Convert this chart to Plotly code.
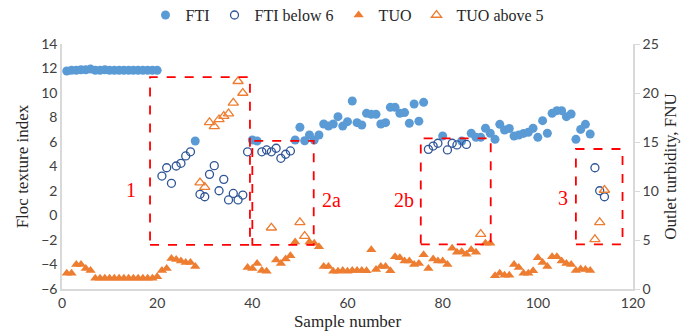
import plotly.graph_objects as go

sample = list(range(1, 115))

fti = [11.8, 11.85, 11.85, 11.9, 11.9, 11.95, 11.85, 11.85, 11.9, 11.85,
       11.85, 11.85, 11.85, 11.85, 11.85, 11.85, 11.85, 11.85, 11.85, 11.85,
       3.22, 3.9, 2.63, 4.04, 4.26, 4.86, 5.2, 6.08, 1.73, 1.53,
       3.36, 4.07, 2.02, 2.95, 1.27, 1.8, 1.27, 1.67, 5.2, 6.16,
       6.08, 5.2, 5.35, 5.2, 5.49, 4.67, 5.0, 5.27, 6.16, 7.2,
       6.1, 6.57, 6.16, 6.57, 7.47, 7.3, 7.47, 8.07, 7.3, 7.66,
       9.35, 7.58, 7.39, 8.34, 8.26, 8.26, 7.47, 7.58, 8.83, 8.83,
       8.34, 8.4, 7.53, 9.1, 7.7, 9.24, 5.4, 5.67, 5.9, 6.49,
       5.35, 5.9, 5.76, 6.08, 5.8, 6.71, 6.38, 6.38, 7.12, 6.71,
       6.22, 7.44, 6.98, 7.1, 6.49, 6.57, 6.7, 6.8, 7.12, 6.38,
       7.74, 6.71, 8.34, 8.56, 8.56, 8.07, 8.29, 6.22, 7.03, 7.44,
       6.65, 3.9, 2.02, 1.53]

tuo = [1.6, 1.6, 2.5, 2.5, 2.1, 1.9, 1.1, 1.1, 1.1, 1.1,
       1.1, 1.1, 1.1, 1.1, 1.1, 1.1, 1.1, 1.1, 1.1, 1.25,
       1.9, 2.1, 3.1, 3.0, 2.85, 2.7, 2.7, 2.3, 10.85, 10.4,
       17.0, 16.6, 17.3, 17.65, 17.9, 19.0, 21.2, 20.0, 2.2, 2.1,
       2.6, 1.9, 1.8, 6.25, 2.96, 2.6, 3.05, 3.4, 4.8, 6.8,
       5.4, 4.8, 4.66, 4.3, 2.3, 2.3, 1.8, 1.8, 1.9, 1.8,
       1.9, 1.9, 1.9, 1.85, 4.0, 2.0, 2.3, 2.3, 1.85, 3.3,
       3.2, 2.85, 2.85, 2.5, 2.6, 3.5, 2.1, 3.05, 2.85, 2.85,
       2.5, 4.15, 3.75, 3.8, 3.55, 4.0, 3.75, 5.6, 4.66, 4.66,
       1.35, 1.6, 1.4, 1.4, 2.5, 2.2, 1.6, 1.6, 1.85, 3.2,
       2.7, 2.3, 3.3, 3.3, 2.85, 2.6, 2.5, 1.9, 2.05, 2.0,
       1.9, 5.07, 6.8, 10.1]

FTI_LIMIT = 6
TUO_LIMIT = 5

# regions (sample range, FTI range) and labels
box_names = ["1", "2a", "2b", "3"]
box_x0 = [18.5, 40.0, 75.4, 108.0]
box_x1 = [39.5, 52.9, 90.1, 117.8]
box_y0 = [-2.4, -2.4, -2.35, -2.35]
box_y1 = [11.3, 6.1, 6.3, 5.43]
label_x = [14.5, 56.6, 71.8, 105.2]
label_y = [2.1, 1.27, 1.27, 1.4]

fti_hi_x = [s for s, v in zip(sample, fti) if v >= FTI_LIMIT]
fti_hi_y = [v for v in fti if v >= FTI_LIMIT]
fti_lo_x = [s for s, v in zip(sample, fti) if v < FTI_LIMIT]
fti_lo_y = [v for v in fti if v < FTI_LIMIT]
tuo_lo_x = [s for s, v in zip(sample, tuo) if v <= TUO_LIMIT]
tuo_lo_y = [v for v in tuo if v <= TUO_LIMIT]
tuo_hi_x = [s for s, v in zip(sample, tuo) if v > TUO_LIMIT]
tuo_hi_y = [v for v in tuo if v > TUO_LIMIT]

blue = "#5B9BD5"
dblue = "#2F5597"
orange = "#ED7D31"
serif = "Liberation Serif"
tickfont = dict(family="Lato", size=14, color="#404040")

fig = go.Figure()
fig.add_trace(go.Scatter(x=fti_hi_x, y=fti_hi_y, mode="markers", name="FTI",
                         marker=dict(symbol="circle", size=9, color=blue)))
fig.add_trace(go.Scatter(x=fti_lo_x, y=fti_lo_y, mode="markers", name="FTI below 6",
                         marker=dict(symbol="circle-open", size=8, color=dblue,
                                     line=dict(width=1.3, color=dblue))))
fig.add_trace(go.Scatter(x=tuo_lo_x, y=tuo_lo_y, mode="markers", name="TUO", yaxis="y2",
                         marker=dict(symbol="triangle-up", size=9, color=orange)))
fig.add_trace(go.Scatter(x=tuo_hi_x, y=tuo_hi_y, mode="markers", name="TUO above 5", yaxis="y2",
                         marker=dict(symbol="triangle-up-open", size=9, color=orange,
                                     line=dict(width=1.3, color=orange))))

shapes = []
annotations = []
for n, x0, x1, y0, y1, lx, ly in zip(box_names, box_x0, box_x1, box_y0, box_y1, label_x, label_y):
    shapes.append(dict(type="rect", xref="x", yref="y", x0=x0, x1=x1, y0=y0, y1=y1,
                       line=dict(color="#FF0000", width=1.8, dash="dash")))
    annotations.append(dict(x=lx, y=ly, xref="x", yref="y", text=n, showarrow=False,
                            font=dict(family=serif, size=20, color="#FF0000")))

fig.update_layout(
    width=686, height=331,
    margin=dict(l=62, r=53, t=44, b=42, autoexpand=False),
    paper_bgcolor="white", plot_bgcolor="white",
    shapes=shapes, annotations=annotations,
    legend=dict(orientation="h", x=0.5, xanchor="center", y=1.118, yanchor="middle",
                font=dict(family=serif, size=16, color="#262626"), itemwidth=30,
                bgcolor="rgba(0,0,0,0)"),
    xaxis=dict(range=[0, 120], dtick=20, tick0=0, showgrid=False, zeroline=False,
               showline=True, linecolor="#D9D9D9", linewidth=1.5, ticks="",
               tickfont=tickfont, automargin=False,
               title=dict(text="Sample number", font=dict(family=serif, size=17, color="#262626"),
                          standoff=12)),
    yaxis=dict(range=[-6, 14], dtick=2, tick0=-6, showgrid=False, zeroline=False,
               showline=True, linecolor="#D9D9D9", linewidth=1.5, ticks="",
               tickfont=tickfont, automargin=False,
               title=dict(text="Floc texture index", font=dict(family=serif, size=17, color="#262626"),
                          standoff=8)),
    yaxis2=dict(range=[0, 25], dtick=5, tick0=0, overlaying="y", side="right",
                showgrid=False, zeroline=False, showline=True, linecolor="#D9D9D9",
                linewidth=1.5, ticks="outside", ticklen=5, tickcolor="#D9D9D9",
                tickfont=tickfont, automargin=False,
                title=dict(text="Outlet turbidity, FNU", font=dict(family=serif, size=17, color="#262626"),
                           standoff=6)),
)

fig.write_html("out.html")
